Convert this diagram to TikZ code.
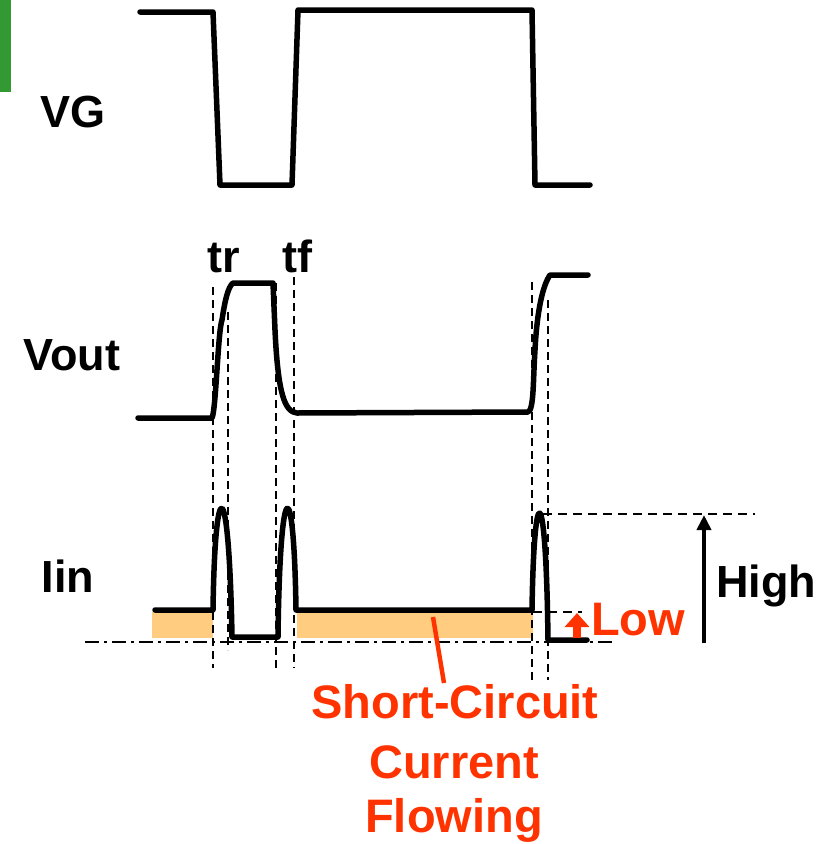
\documentclass[tikz,border=0pt]{standalone}
\usepackage{fontspec}
\setmainfont{Liberation Sans}
\usetikzlibrary{arrows.meta}
\definecolor{scred}{RGB}{255,51,0}
\definecolor{scorange}{RGB}{255,204,128}
\definecolor{scgreen}{RGB}{51,153,51}
\tikzset{
  wave/.style={line width=5.5pt,line join=round,line cap=round},
  vdash/.style={line width=2.8pt,dash pattern=on 8pt off 5pt},
  hdash/.style={line width=2.6pt,dash pattern=on 9pt off 6pt},
  dashdot/.style={line width=2.6pt,dash pattern=on 14pt off 5pt on 3pt off 5pt},
  blab/.style={font=\fontsize{45}{50}\selectfont\bfseries,anchor=base,inner sep=0pt},
  rlab/.style={font=\fontsize{47}{54}\selectfont\bfseries,text=scred,anchor=base,inner sep=0pt},
}
\begin{document}
\begin{tikzpicture}[x=1pt,y=-1pt]
\useasboundingbox (0,0) rectangle (819,844);
\fill[scgreen] (0,0) rectangle (11,92);
% orange areas
\fill[scorange] (152,612) rectangle (213,638);
\fill[scorange] (297,612) rectangle (533,638);
% labels
\node[blab] (vg) at (73,127) {VG};
\node[blab] (vout) at (72,370) {Vout};
\node[blab] (iin) at (68,592) {Iin};
\node[blab] (tr) at (224,272) {tr};
\node[blab] (tf) at (297,272) {tf};
\node[blab] (high) at (766,597) {High};
\node[rlab] (low) at (638,635) {Low};
\node[rlab] (sc1) at (455,718) {Short-Circuit};
\node[rlab] (sc2) at (454,778) {Current};
\node[rlab] (sc3) at (454,832) {Flowing};
% dashed verticals
\coordinate (d1t) at (213,287); \coordinate (d1b) at (213,668);
\coordinate (d2t) at (228,312); \coordinate (d2b) at (228,650);
\coordinate (d3t) at (276,283); \coordinate (d3b) at (276,668);
\coordinate (d4t) at (294,277); \coordinate (d4b) at (294,668);
\coordinate (d5t) at (532,282); \coordinate (d5b) at (532,680);
\coordinate (d6t) at (548,300); \coordinate (d6b) at (548,680);
\draw[vdash] (d1t) -- (d1b);
\draw[vdash] (d2t) -- (d2b);
\draw[vdash] (d3t) -- (d3b);
\draw[vdash] (d4t) -- (d4b);
\draw[vdash] (d5t) -- (d5b);
\draw[vdash] (d6t) -- (d6b);
% horizontal references
\coordinate (ddl) at (85,642); \coordinate (ddr) at (612,642);
\draw[dashdot] (ddl) -- (ddr);
\coordinate (lowl) at (533,612); \coordinate (lowr) at (582,612);
\draw[hdash] (lowl) -- (lowr);
\coordinate (hil) at (543,514); \coordinate (hir) at (755,514);
\draw[hdash] (hil) -- (hir);
% VG waveform
\draw[wave] (140,12) -- (213,12) -- (220,185) -- (292,185) -- (298,10) -- (532,10) -- (535,185) -- (590,185);
% Vout waveform
\draw[wave] (138,418) -- (212,418) .. controls (216,410) and (218,330) .. (222,320) .. controls (225,300) and (228,287) .. (233,283) -- (273,283) -- (275,330) .. controls (278,395) and (285,412) .. (297,413) -- (528,412) .. controls (534,410) and (533,380) .. (535,350) .. controls (537,310) and (543,285) .. (550,275) -- (588,275);
% Iin waveform
\draw[wave] (155,610) -- (213,610) .. controls (215,470) and (229,470) .. (232,637) -- (278,637) .. controls (280,470) and (294,470) .. (296,610) -- (532,610) .. controls (534,476) and (546,476) .. (548,640) -- (587,640);
% High arrow
\coordinate (hb) at (704,643); \coordinate (ht) at (704,515);
\draw[line width=4.5pt,-{Triangle[width=14pt,length=15pt]}] (hb) -- (ht);
% Low arrow
\coordinate (lb) at (577,638); \coordinate (lt) at (577,613);
\draw[scred,line width=8pt,-{Triangle[width=24pt,length=14pt]}] (lb) -- (lt);
% leader
\coordinate (leadt) at (433,617);
\coordinate (leadb) at (444,683);
\draw[scred,line width=4.5pt] (leadt) -- (leadb);
\end{tikzpicture}
\end{document}
